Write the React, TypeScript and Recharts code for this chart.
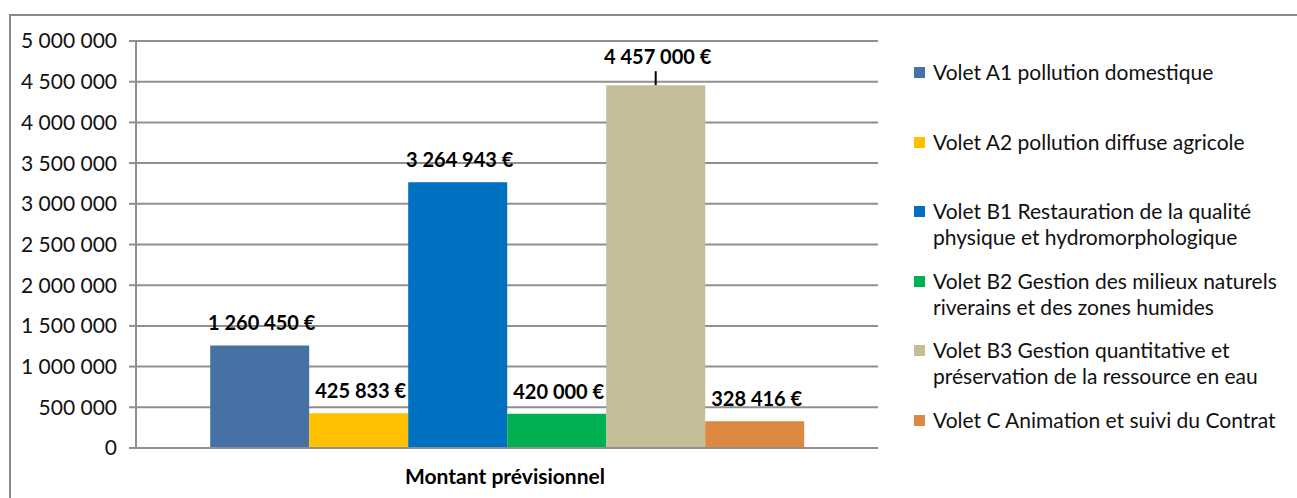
import React from "react";
import { BarChart, Bar, XAxis, YAxis, CartesianGrid, LabelList } from "recharts";

const categories = ["Montant prévisionnel"];
const seriesKeys = ["a1", "a2", "b1", "b2", "b3", "c"];
const seriesNames = [
  "Volet A1 pollution domestique",
  "Volet A2 pollution diffuse agricole",
  "Volet B1 Restauration de la qualité\nphysique et hydromorphologique",
  "Volet B2 Gestion des milieux naturels\nriverains et des zones humides",
  "Volet B3 Gestion quantitative et\npréservation de la ressource en eau",
  "Volet C Animation et suivi du Contrat",
];
const seriesValues = [1260450, 425833, 3264943, 420000, 4457000, 328416];
const seriesColors = ["#4671A5", "#FFC000", "#0070C0", "#00B050", "#C4BD97", "#DC8840"];
const leaderSeries = ["b3"];
const yTicks = [0, 500000, 1000000, 1500000, 2000000, 2500000, 3000000, 3500000, 4000000, 4500000, 5000000];

const data = categories.map((name) => {
  const row: any = { name };
  seriesKeys.forEach((k, i) => (row[k] = seriesValues[i]));
  return row;
});

const fmt = (v: number) => String(v).replace(/\B(?=(\d{3})+(?!\d))/g, " ");
const FONT = "Lato, 'DejaVu Sans', sans-serif";

const makeLabel = (leader: boolean) => (props: any) => {
  const { x, y, width, value } = props;
  const cx = Number(x) + Number(width) / 2;
  const top = Number(y);
  const lift = leader ? 29 : 23;
  return (
    <g>
      {leader && <line x1={cx} x2={cx} y1={top - 14} y2={top} stroke="#000" strokeWidth={2} />}
      <text
        x={cx + 2}
        y={top - lift}
        textAnchor="middle"
        dominantBaseline="central"
        fontWeight="bold"
        fontSize={20}
        fontFamily={FONT}
        fill="#000"
      >
        {fmt(value)} €
      </text>
    </g>
  );
};

const XTick = (props: any) => {
  const { x, y, payload } = props;
  return (
    <text x={Number(x) - 2} y={Number(y) + 27} textAnchor="middle" dominantBaseline="central" fontWeight="bold" fontSize={21} fontFamily={FONT} fill="#000">
      {payload.value}
    </text>
  );
};

export default function App() {
  return (
    <div style={{ position: "absolute", left: 0, top: 0, width: 1297, height: 498, overflow: "hidden", background: "#fff" }}>
      <div
        style={{
          position: "absolute",
          left: 9,
          top: 14,
          width: 1400,
          height: 600,
          border: "2px solid #8a8a8a",
          boxSizing: "border-box",
        }}
      />
      <div style={{ position: "absolute", left: 0, top: 0 }}>
        <BarChart
          width={1297}
          height={498}
          data={data}
          margin={{ top: 41, right: 419, left: 0, bottom: 10 }}
          barCategoryGap="10%"
          barGap={0}
        >
          <CartesianGrid horizontal vertical={false} stroke="#8f8f8f" strokeWidth={2} />
          <XAxis
            dataKey="name"
            height={40}
            tickLine={false}
            tickSize={0}
            tickMargin={0}
            axisLine={{ stroke: "#8f8f8f", strokeWidth: 2 }}
            tick={<XTick />}
          />
          <YAxis
            width={136}
            domain={[0, 5000000]}
            ticks={yTicks}
            interval={0}
            tickFormatter={fmt}
            tickSize={7}
            tickMargin={12}
            tickLine={{ stroke: "#8f8f8f", strokeWidth: 2 }}
            axisLine={{ stroke: "#8f8f8f", strokeWidth: 2 }}
            tick={{ fontSize: 21, fontFamily: FONT, fill: "#111" }}
          />
          {seriesKeys.map((k, i) => (
            <Bar key={k} dataKey={k} name={seriesNames[i]} fill={seriesColors[i]} isAnimationActive={false}>
              <LabelList dataKey={k} content={makeLabel(leaderSeries.includes(k))} />
            </Bar>
          ))}
        </BarChart>
      </div>
      {seriesNames.map((n, i) => {
        const center = 72 + i * 69.5;
        return (
          <div key={n} style={{ position: "absolute", left: 914, top: center - 13, fontFamily: FONT, fontSize: 21, lineHeight: "26px", color: "#111" }}>
            <div style={{ position: "absolute", left: 0, top: 8, width: 11, height: 11, background: seriesColors[i] }} />
            <div style={{ position: "absolute", left: 19, top: 0, whiteSpace: "pre" }}>{n}</div>
          </div>
        );
      })}
    </div>
  );
}
